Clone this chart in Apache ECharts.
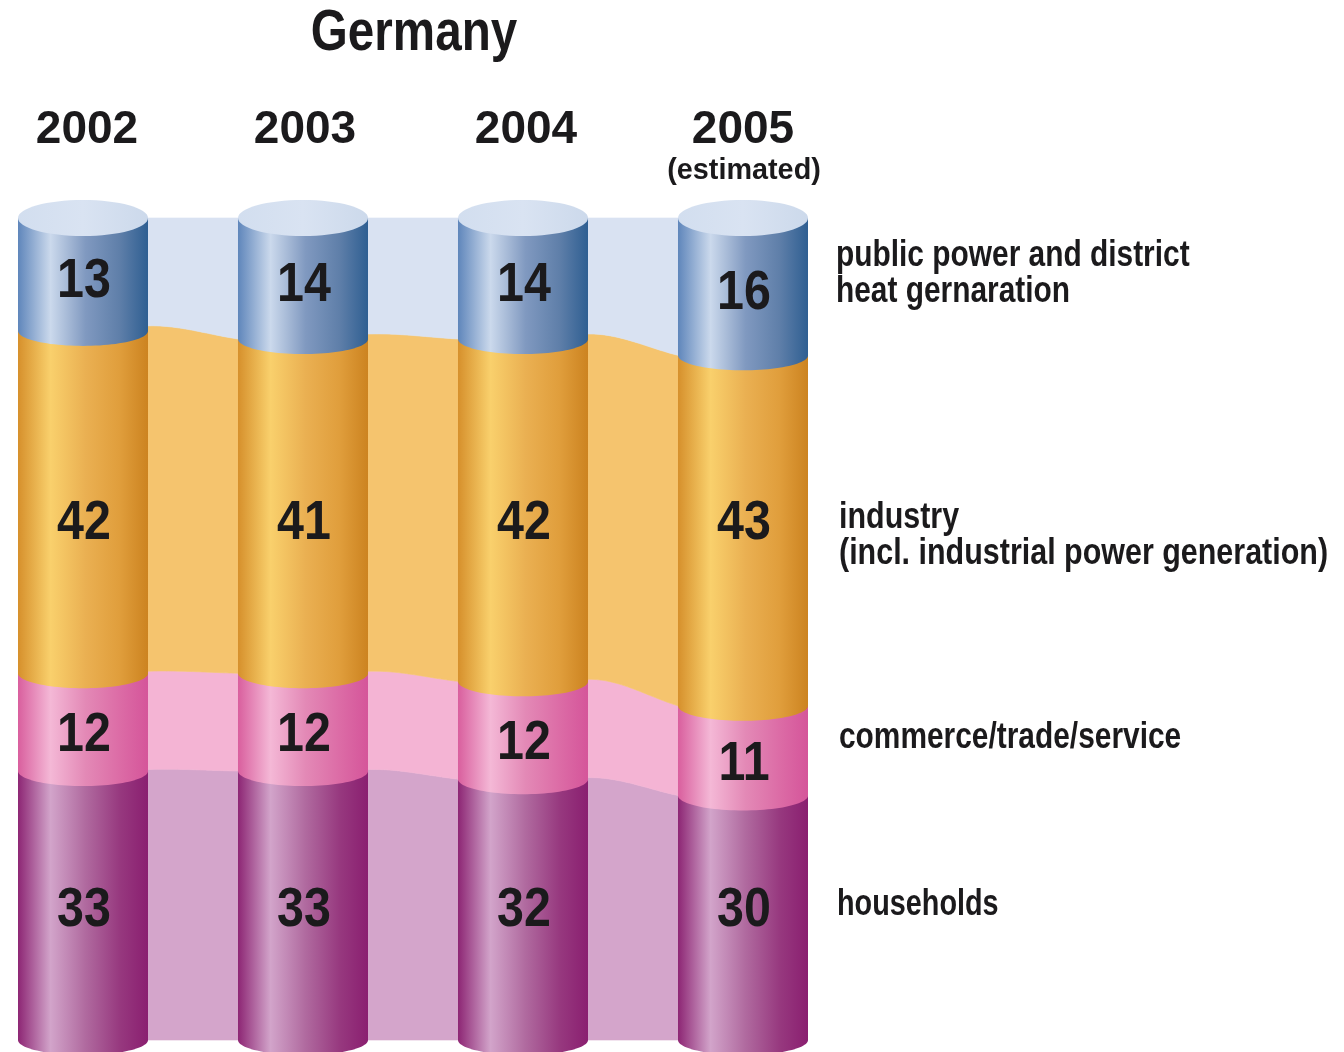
<!DOCTYPE html>
<html>
<head>
<meta charset="utf-8">
<style>html,body{margin:0;padding:0;background:#fff}#c{width:1344px;height:1052px}</style>
<script src="https://cdn.jsdelivr.net/npm/echarts@6/dist/echarts.min.js"></script>
</head>
<body>
<div id="c"></div>
<script>
const titleText = 'Germany';
const years = ['2002', '2003', '2004', '2005'];
const estimatedNote = '(estimated)';
const households = [33, 33, 32, 30];
const commerce = [12, 12, 12, 11];
const industry = [42, 41, 42, 43];
const publicPower = [13, 14, 14, 16];
const legendPublic = ['public power and district', 'heat gernaration'];
const legendIndustry = ['industry', '(incl. industrial power generation)'];
const legendCommerce = ['commerce/trade/service'];
const legendHouseholds = ['households'];

// ---- styling ----
const FONT = '"Liberation Sans",sans-serif';
const INK = '#1b1a1c';
const Y_MAX = 100.85;
const CYL_RATIO = 130 / 220;
const ARC = 15;
const CAP_RY = 18;
const yearNudge = [8, 4, 6, 0];
const bandStyles = [
  { name: 'households', band: '#d4a5cb', lift: 1.5, stops: ['#8d2674', '#d2a4ca', '#b06a9f', '#97397f', '#8a1f70'], labelY: () => 911 },
  { name: 'commerce', band: '#f4b4d4', lift: 2, stops: ['#d95f9e', '#f4b8d6', '#e389b6', '#dc6ca6', '#d5559a'], labelY: (t, b) => (t + b) / 2 + 14 },
  { name: 'industry', band: '#f5c46e', lift: 5, stops: ['#d6902c', '#f9d06c', '#eab052', '#e09e3c', '#cc8320'], labelY: () => 524 },
  { name: 'public', band: '#d9e2f2', lift: 0, stops: ['#5f86bb', '#cbd9ec', '#8099c0', '#5f7fa9', '#2f5f92'], labelY: (t, b) => (t + b) / 2 + 4 }
];
const layers = [households, commerce, industry, publicPower];

// cumulative stack per year: [lo, hi]; the top layer runs up to the axis top
function stackRange(layer, i) {
  let lo = 0;
  for (let k = 0; k < layer; k++) lo += layers[k][i];
  const hi = layer === layers.length - 1 ? Y_MAX : lo + layers[layer][i];
  return [lo, hi];
}

function gradient(stops) {
  const at = [0, 0.25, 0.52, 0.78, 1];
  return new echarts.graphic.LinearGradient(0, 0, 1, 0,
    stops.map((c, n) => ({ offset: at[n], color: c })));
}

function halfWidth(api) {
  return (api.coord([1, 0])[0] - api.coord([0, 0])[0]) * CYL_RATIO / 2;
}

// bands between neighbouring cylinders
function renderBands(params, api) {
  const layer = api.value(0), i = api.value(1);
  const half = halfWidth(api);
  const a = stackRange(layer, i), b = stackRange(layer, i + 1);
  const xL = api.coord([i, 0])[0] + half, xR = api.coord([i + 1, 0])[0] - half;
  const edge = (v0, v1, lift) => {
    const y0 = api.coord([0, v0])[1] - lift, y1 = api.coord([0, v1])[1];
    const pts = [];
    for (let n = 0; n <= 30; n++) {
      const t = n / 30, u = 1 - t;
      const x = xL + (xR - xL) * t;
      const y = lift === 0 ? y0 + (y1 - y0) * t
        : u * u * u * y0 + 3 * u * u * t * (y0 - 1) + 3 * u * t * t * (y0 * 0.35 + y1 * 0.65) + t * t * t * y1;
      pts.push([x, y]);
    }
    return pts;
  };
  const top = edge(a[1], b[1], bandStyles[layer].lift);
  const bottom = layer === 0 ? edge(0, 0, 0) : edge(a[0], b[0], bandStyles[layer - 1].lift);
  return {
    type: 'polygon',
    shape: { points: top.concat(bottom.reverse()) },
    style: { fill: bandStyles[layer].band, stroke: bandStyles[layer].band, lineWidth: 0.6 }
  };
}

// one cylinder section, drawn bottom-up so each sits over the one beneath it
function renderCylinder(params, api) {
  const layer = api.value(0), i = api.value(1);
  const [lo, hi] = stackRange(layer, i);
  const cx = api.coord([i, 0])[0];
  const half = halfWidth(api);
  const yTop = api.coord([0, hi])[1], yBot = api.coord([0, lo])[1];
  const pts = [[cx - half, yTop]];
  for (let n = 0; n <= 48; n++) {
    const a = Math.PI * (1 - n / 48);
    pts.push([cx + half * Math.cos(a), yBot + ARC * Math.sin(a)]);
  }
  pts.push([cx + half, yTop]);
  const children = [{
    type: 'polygon',
    shape: { points: pts },
    style: { fill: gradient(bandStyles[layer].stops) }
  }];
  if (layer === layers.length - 1) {
    children.push({
      type: 'ellipse',
      shape: { cx: cx, cy: yTop, rx: half, ry: CAP_RY },
      style: { fill: new echarts.graphic.LinearGradient(0, 0, 1, 0, [
        { offset: 0, color: '#d2deef' }, { offset: 0.5, color: '#d9e3f2' }, { offset: 1, color: '#ccd9eb' }]) }
    });
  }
  const labelTop = layer === layers.length - 1 ? api.coord([0, lo + layers[layer][i]])[1] : yTop;
  children.push({
    type: 'text',
    x: cx + 1,
    y: bandStyles[layer].labelY(labelTop, yBot),
    scaleX: 0.88,
    style: {
      text: String(layers[layer][i]),
      x: 0, y: 0,
      align: 'center', verticalAlign: 'middle',
      font: 'bold 55px ' + FONT, fill: INK
    },
    z2: 10
  });
  return { type: 'group', children: children };
}

const bandRows = [], cylRows = [];
layers.forEach((l, k) => years.forEach((y, i) => {
  cylRows.push([k, i, l[i]]);
  if (i < years.length - 1) bandRows.push([k, i, l[i]]);
}));

function textBlock(lines, x, yFirst, step, sx) {
  return lines.map((t, n) => ({
    type: 'text', x: x, y: yFirst + n * step, scaleX: sx,
    style: { text: t, font: 'bold 36px ' + FONT, fill: INK }
  }));
}

const chart = echarts.init(document.getElementById('c'), null, { renderer: 'canvas' });
chart.setOption({
  animation: false,
  backgroundColor: '#fff',
  grid: { left: 83, width: 660, top: 218, bottom: 12 },
  xAxis: {
    type: 'category', position: 'top', boundaryGap: false,
    data: years.map((y, i) => ({ value: y, textStyle: { padding: [0, 0, 0, yearNudge[i]] } })),
    axisLine: { show: false }, axisTick: { show: false },
    axisLabel: { margin: 65, fontFamily: FONT, fontWeight: 'bold', fontSize: 46, color: INK, interval: 0, hideOverlap: false, showMinLabel: true, showMaxLabel: true }
  },
  yAxis: { type: 'value', min: 0, max: Y_MAX, show: false, splitLine: { show: false } },
  series: [
    { type: 'custom', name: 'bands', data: bandRows, renderItem: renderBands, clip: false, silent: true, z: 1 },
    { type: 'custom', name: 'cylinders', data: cylRows, renderItem: renderCylinder, clip: false, silent: true, z: 2 }
  ],
  graphic: [
    { type: 'text', x: 414, y: 6, scaleX: 0.835,
      style: { text: titleText, align: 'center', font: 'bold 57px ' + FONT, fill: INK } },
    { type: 'text', x: 744, y: 156, scaleX: 0.96,
      style: { text: estimatedNote, align: 'center', font: 'bold 30px ' + FONT, fill: INK } }
  ].concat(
    textBlock(legendPublic, 836, 238, 36, 0.83),
    textBlock(legendIndustry, 839, 500, 36, 0.846),
    textBlock(legendCommerce, 839, 720, 36, 0.83),
    textBlock(legendHouseholds, 837, 887, 36, 0.8)
  )
});
</script>
</body>
</html>
